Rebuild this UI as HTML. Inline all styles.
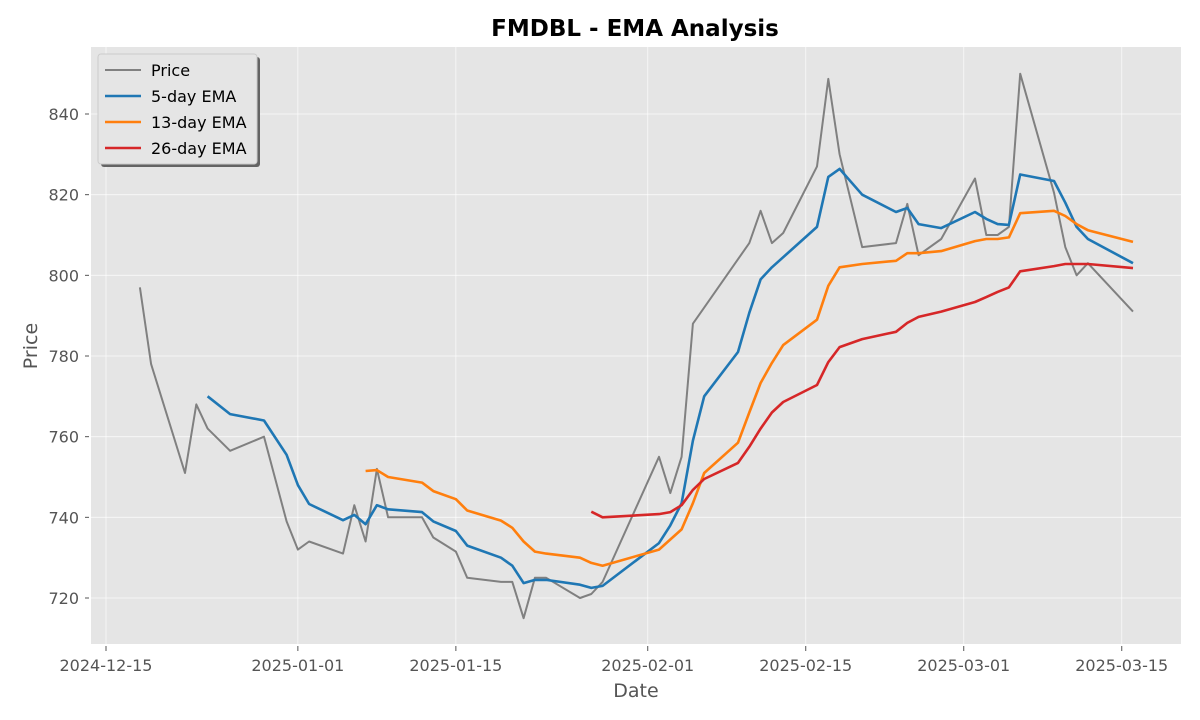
<!DOCTYPE html>
<html><head><meta charset="utf-8">
<style>
body{margin:0;background:#fff;}
svg{display:block;font-family:"DejaVu Sans","Liberation Sans",sans-serif;}
</style></head>
<body>
<svg id="chart" width="1200" height="720">
<rect x="0" y="0" width="1200" height="720" fill="#fff"/>
<rect x="91" y="47" width="1090" height="597" fill="#e5e5e5"/>
<g id="grid"></g>
<g id="series"></g>
<g id="ticks"></g>
<text x="635" y="36" text-anchor="middle" font-size="23" font-weight="bold" fill="#000">FMDBL - EMA Analysis</text>
<text x="636" y="697" text-anchor="middle" font-size="19" fill="#555">Date</text>
<text x="37" y="346" text-anchor="middle" font-size="19" fill="#555" transform="rotate(-90 37 346)">Price</text>
<g>
<rect x="101" y="57" width="159" height="110" rx="3" fill="#555" opacity="0.9"/>
<rect x="98" y="54" width="159" height="110" rx="3" fill="#e5e5e5" stroke="#ccc"/>
<g id="legend"></g>
</g>
</svg>
<script>
const days=[3,4,7,8,9,11,14,16,17,18,21,22,23,24,25,28,29,31,32,35,36,37,38,39,42,43,44,49,50,51,52,53,56,57,58,59,60,63,64,65,67,70,71,72,74,77,78,79,80,81,84,85,86,87,91];
const price=[797,778,751,768,762,756.5,760,739,732,734,731,743,734,752,740,740,735,731.5,725,724,724,715,725,725,720,721,724,755,746,755,788,792,804,808,816,808,810.5,827,848.7,830,807,808,817.7,805,809,824,810,810,812,850,820.5,807,800,803,791];
const ema5=[770,765.6,764,755.5,748,743.3,739.3,740.6,738.3,743,742,741.3,739,736.6,733,730,728,723.7,724.5,724.5,723.3,722.5,723,733.6,738,743.5,759,770,781,790.7,799,802,804.5,812,824.4,826.4,820,815.7,816.7,812.7,811.7,815.7,814,812.7,812.5,825,823.4,818,812,809,803];
const ema13=[751.5,751.7,750,748.6,746.5,744.5,741.7,739.2,737.4,734,731.5,731,730,728.7,728,732,734.5,737,743.5,751,758.5,766,773.3,778.3,782.7,789,797.4,802,802.8,803.6,805.5,805.5,806,808.5,809,809,809.4,815.4,816,814.7,812.7,811.2,808.3];
const ema26=[741.4,740,740.8,741.3,743,746.8,749.5,753.5,757.5,762,766,768.6,772.8,778.5,782.2,784.2,786,788.2,789.7,791,793.4,794.6,795.9,797,801,802.3,802.8,802.8,802.8,801.8];
const yTicks=[720,740,760,780,800,820,840];
const xTickDays=[0,17,31,48,62,76,90];
const xTickLabels=["2024-12-15","2025-01-01","2025-01-15","2025-02-01","2025-02-15","2025-03-01","2025-03-15"];
const legendNames=["Price","5-day EMA","13-day EMA","26-day EMA"];
const legendColors=["#808080","#1f77b4","#ff7f0e","#d62728"];

const NS="http://www.w3.org/2000/svg";
function xs(d){return 106+d*11.286;}
function ys(v){return 598-(v-720)*4.0333;}
function mk(tag,attrs,parent){const e=document.createElementNS(NS,tag);for(const k in attrs)e.setAttribute(k,attrs[k]);parent.appendChild(e);return e;}
const grid=document.getElementById('grid'),ticks=document.getElementById('ticks'),ser=document.getElementById('series'),leg=document.getElementById('legend');
yTicks.forEach(v=>{
  const l=mk('line',{x1:91,x2:1181,y1:ys(v),y2:ys(v),stroke:'#fff','stroke-width':0.8,opacity:0.8},grid);
  
  
  mk('line',{x1:85,x2:89,y1:ys(v),y2:ys(v),stroke:'#555'},ticks);
  const t=mk('text',{x:79,y:ys(v)+6,'text-anchor':'end','font-size':16,fill:'#555'},ticks);
  t.textContent=v;
  
  
});
xTickDays.forEach((d,i)=>{
  const l=mk('line',{x1:xs(d),x2:xs(d),y1:47,y2:644,stroke:'#fff','stroke-width':0.8,opacity:0.8},grid);
  
  
  mk('line',{x1:xs(d),x2:xs(d),y1:646,y2:651,stroke:'#555'},ticks);
  const t=mk('text',{x:xs(d),y:671,'text-anchor':'middle','font-size':16,fill:'#555'},ticks);
  t.textContent=xTickLabels[i];
  
  
});
function line(vals,color,w,name){
  const off=days.length-vals.length;
  const pts=vals.map((v,i)=>xs(days[i+off]).toFixed(1)+','+ys(v).toFixed(1)).join(' ');
  const p=mk('polyline',{points:pts,fill:'none',stroke:color,'stroke-width':w,'stroke-linejoin':'round'},ser);
  
  
}
line(price,'#808080',2,'price-line');
line(ema5,'#1f77b4',2.6,'ema5-line');
line(ema13,'#ff7f0e',2.6,'ema13-line');
line(ema26,'#d62728',2.6,'ema26-line');
legendNames.forEach((n,i)=>{
  const y=70+i*26;
  mk('line',{x1:105,x2:141,y1:y,y2:y,stroke:legendColors[i],'stroke-width':i?2.6:2},leg);
  const t=mk('text',{x:151,y:y+6,'font-size':16,fill:'#000'},leg);
  t.textContent=n;
  
  
});
</script>
</body></html>
